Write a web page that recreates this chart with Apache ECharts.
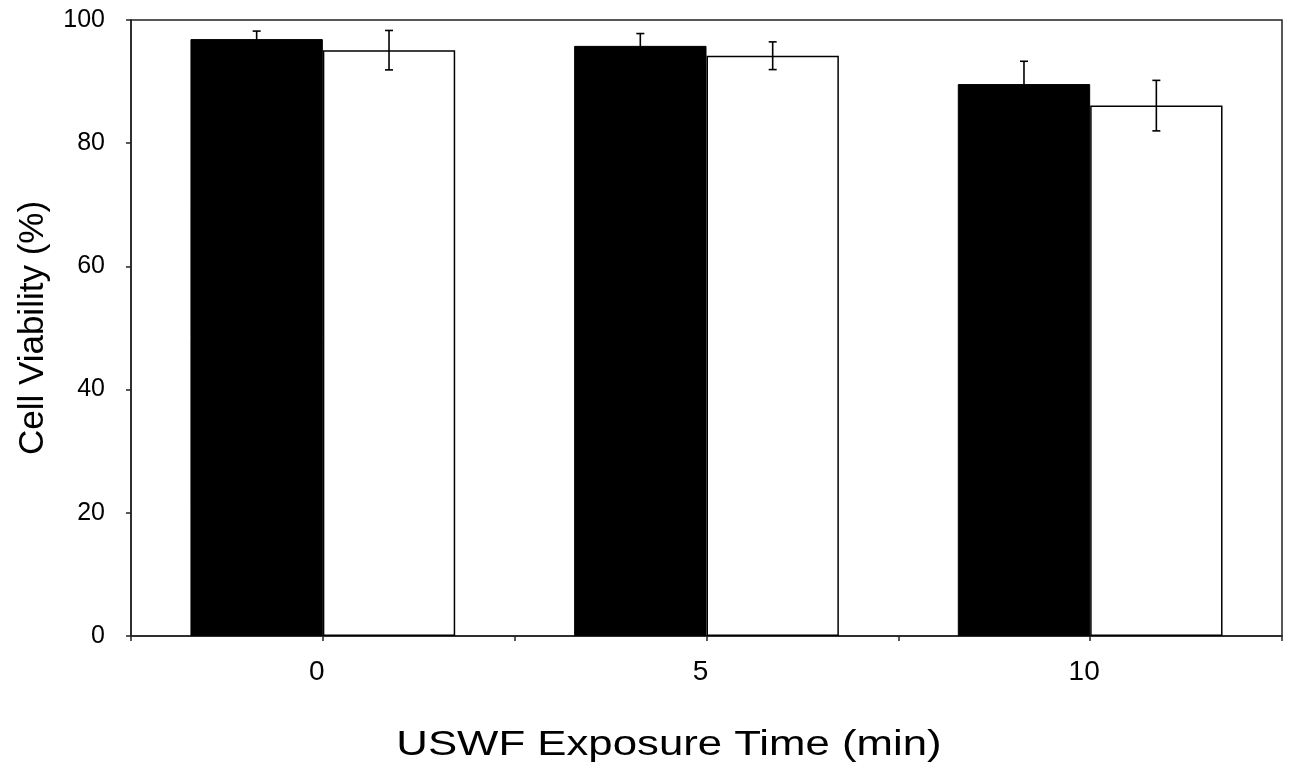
<!DOCTYPE html>
<html>
<head>
<meta charset="utf-8">
<script src="https://cdn.jsdelivr.net/npm/echarts@6/dist/echarts.min.js"></script>
<style>
  html, body { margin: 0; padding: 0; background: #fff; }
  #chart { width: 1291px; height: 771px; }
</style>
</head>
<body>
<div id="chart"></div>
<script>
// exposure times (min)
const categories = ['0', '5', '10'];
// black bars and white bars, cell viability (%)
const blackValues = [96.9, 95.8, 89.6];
const blackErrors = [1.3, 2.0, 3.7];
const whiteValues = [95.1, 94.2, 86.1];
const whiteErrors = [3.2, 2.25, 4.1];
const yTicks = [0, 20, 40, 60, 80, 100];

const font = 'Liberation Sans, Arial, sans-serif';
const gapPct = 31;

// error bar rendering, side is -1 for left bar, +1 for right bar
function errorRenderer(side) {
  return function (params, api) {
    const idx = api.value(0);
    const band = api.size([1, 0])[0];
    const barW = band * (1 - gapPct / 100) / 2;
    const hi = api.coord([idx, api.value(1) + api.value(2)]);
    const lo = api.coord([idx, api.value(1) - api.value(2)]);
    const x = hi[0] + side * barW / 2;
    const cap = 4;
    const style = { stroke: '#000', lineWidth: 1.6 };
    return {
      type: 'group',
      children: [
        { type: 'line', shape: { x1: x, y1: hi[1], x2: x, y2: lo[1] }, style },
        { type: 'line', shape: { x1: x - cap, y1: hi[1], x2: x + cap, y2: hi[1] }, style },
        { type: 'line', shape: { x1: x - cap, y1: lo[1], x2: x + cap, y2: lo[1] }, style }
      ]
    };
  };
}

const chart = echarts.init(document.getElementById('chart'));
chart.setOption({
  animation: false,
  backgroundColor: '#fff',
  graphic: [{
    // x axis title, drawn a little stretched like the original
    type: 'text',
    x: 669,
    y: 745,
    scaleX: 1.25,
    style: {
      text: 'USWF Exposure Time (min)',
      font: '35px ' + font,
      fill: '#000',
      align: 'center',
      verticalAlign: 'middle'
    }
  }],
  grid: {
    left: 131, right: 9, top: 20, bottom: 135,
    show: true, borderColor: '#222', borderWidth: 1.5
  },
  xAxis: [{
    type: 'category',
    data: categories,
    axisLine: { lineStyle: { color: '#222', width: 1.5 } },
    axisTick: { show: true, length: 5, lineStyle: { color: '#222', width: 1.5 } },
    axisLabel: { color: '#000', fontFamily: font, fontSize: 28, margin: 22, padding: [0, 12, 0, 0] }
  }, {
    type: 'category',
    data: categories,
    position: 'bottom',
    axisLine: { show: false },
    axisTick: { show: true, alignWithLabel: true, length: 5, lineStyle: { color: '#222', width: 1.5 } },
    axisLabel: { show: false }
  }],
  yAxis: {
    type: 'value',
    min: yTicks[0],
    max: yTicks[yTicks.length - 1],
    interval: 20,
    name: 'Cell Viability (%)',
    nameLocation: 'middle',
    nameGap: 80,
    nameTextStyle: { fontFamily: font, fontSize: 35, color: '#000' },
    axisLine: { show: true, lineStyle: { color: '#222', width: 1.5 } },
    axisTick: { show: true, length: 5, lineStyle: { color: '#222', width: 1.5 } },
    axisLabel: { color: '#000', fontFamily: font, fontSize: 25, margin: 26 },
    splitLine: { show: false }
  },
  series: [{
    type: 'bar',
    data: blackValues,
    barGap: '0%',
    barCategoryGap: gapPct + '%',
    itemStyle: { color: '#000', borderColor: '#000', borderWidth: 1 }
  }, {
    type: 'bar',
    data: whiteValues,
    itemStyle: { color: '#fff', borderColor: '#000', borderWidth: 1.5 }
  }, {
    type: 'custom',
    renderItem: errorRenderer(-1),
    data: blackValues.map((v, i) => [i, v, blackErrors[i]]),
    z: 10
  }, {
    type: 'custom',
    renderItem: errorRenderer(1),
    data: whiteValues.map((v, i) => [i, v, whiteErrors[i]]),
    z: 10
  }]
});
</script>
</body>
</html>
